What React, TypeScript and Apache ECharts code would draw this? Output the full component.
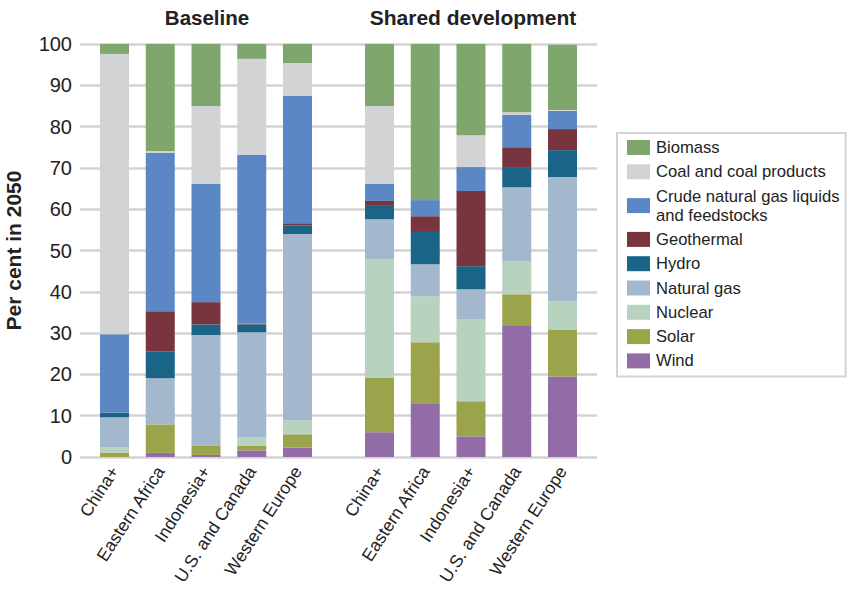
import React, { useEffect, useRef } from "react";
import * as echarts from "echarts";

const regions = ["China+", "Eastern Africa", "Indonesia+", "U.S. and Canada", "Western Europe"];
const scenarioTitles = ["Baseline", "Shared development"];
const sources = [
  "Wind",
  "Solar",
  "Nuclear",
  "Natural gas",
  "Hydro",
  "Geothermal",
  "Crude natural gas liquids and feedstocks",
  "Coal and coal products",
  "Biomass",
];
const colors = ["#926ca6", "#9ba44a", "#b8d2c0", "#a4b8cd", "#1a6488", "#78353d", "#5b87c5", "#d2d3d5", "#7fa66c"];

// Baseline (per source, regions order)
const baseWind = [0, 1.0, 0.5, 1.6, 2.3];
const baseSolar = [1.0, 6.9, 2.3, 1.2, 3.2];
const baseNuclear = [1.4, 0, 0, 2.0, 3.4];
const baseNaturalGas = [7.2, 11.2, 26.7, 25.4, 45.1];
const baseHydro = [1.1, 6.5, 2.6, 1.9, 2.1];
const baseGeothermal = [0, 9.7, 5.4, 0.2, 0.5];
const baseCrude = [19.0, 38.3, 28.6, 40.8, 30.8];
const baseCoal = [67.9, 0.5, 18.9, 23.3, 8.0];
const baseBiomass = [2.4, 25.9, 15.0, 3.6, 4.6];

// Shared development
const sharedWind = [6.0, 13.0, 5.0, 31.7, 19.5];
const sharedSolar = [13.1, 14.8, 8.5, 7.7, 11.4];
const sharedNuclear = [28.8, 11.1, 19.9, 8.0, 6.8];
const sharedNaturalGas = [9.7, 7.8, 7.2, 17.9, 30.1];
const sharedHydro = [3.4, 8.0, 5.6, 4.9, 6.5];
const sharedGeothermal = [1.0, 3.6, 18.2, 4.8, 5.1];
const sharedCrude = [4.1, 3.9, 5.8, 7.8, 4.4];
const sharedCoal = [18.9, 0, 7.7, 0.7, 0.2];
const sharedBiomass = [15.0, 37.8, 22.1, 16.5, 15.8];

const baseline = [baseWind, baseSolar, baseNuclear, baseNaturalGas, baseHydro, baseGeothermal, baseCrude, baseCoal, baseBiomass];
const shared = [sharedWind, sharedSolar, sharedNuclear, sharedNaturalGas, sharedHydro, sharedGeothermal, sharedCrude, sharedCoal, sharedBiomass];

const FONT = "'Liberation Sans', Arial, Helvetica, sans-serif";

export default function App() {
  const ref = useRef<HTMLDivElement>(null);
  useEffect(() => {
    if (!ref.current) return;
    const chart = echarts.init(ref.current, null, { renderer: "svg" });
    const gridTop = 44;
    const gridBottom = 592 - 457;
    const bandW = 45.75;
    const series: any[] = [];
    sources.forEach((s, i) => {
      series.push({
        name: s,
        type: "bar",
        stack: "base",
        xAxisIndex: 1,
        yAxisIndex: 1,
        barWidth: 29,
        itemStyle: { color: colors[i] },
        data: baseline[i],
      });
      series.push({
        name: s,
        type: "bar",
        stack: "shared",
        xAxisIndex: 2,
        yAxisIndex: 2,
        barWidth: 29,
        itemStyle: { color: colors[i] },
        data: shared[i],
      });
    });
    const xLabel = {
      rotate: 57,
      fontSize: 17.5,
      color: "#222",
      fontFamily: FONT,
      margin: 11,
      interval: 0,
    };
    const gridCommon = { top: gridTop, bottom: gridBottom, containLabel: false, outerBoundsMode: "none" };
    chart.setOption({
      animation: false,
      textStyle: { fontFamily: FONT },
      grid: [
        { ...gridCommon, left: 80, right: 861 - 597 },
        { ...gridCommon, left: 114.5 - bandW / 2, width: bandW * 5 },
        { ...gridCommon, left: 379.5 - bandW / 2, width: bandW * 5 },
      ],
      xAxis: [
        { type: "value", gridIndex: 0, show: false, min: 0, max: 1 },
        {
          type: "category",
          gridIndex: 1,
          data: regions,
          axisLine: { show: false },
          axisTick: { show: false },
          axisLabel: xLabel,
        },
        {
          type: "category",
          gridIndex: 2,
          data: regions,
          axisLine: { show: false },
          axisTick: { show: false },
          axisLabel: xLabel,
        },
      ],
      yAxis: [
        {
          type: "value",
          gridIndex: 0,
          min: 0,
          max: 100,
          interval: 10,
          name: "Per cent in 2050",
          nameLocation: "middle",
          nameGap: 56,
          nameTextStyle: { fontSize: 21, fontWeight: "bold", color: "#222", fontFamily: FONT },
          axisLine: { show: false },
          axisTick: { show: false },
          axisLabel: { fontSize: 20, color: "#222", margin: 8, fontFamily: FONT },
          splitLine: { lineStyle: { color: "#d3d3d3", width: 2.5 } },
        },
        { type: "value", gridIndex: 1, min: 0, max: 100, show: false, splitLine: { show: false } },
        { type: "value", gridIndex: 2, min: 0, max: 100, show: false, splitLine: { show: false } },
      ],
      legend: {
        orient: "vertical",
        left: 617,
        top: 133,
        data: sources.slice().reverse(),
        selectedMode: false,
        itemWidth: 23,
        itemHeight: 15,
        itemGap: 5.3,
        icon: "rect",
        padding: [5, 6, 6, 10],
        borderColor: "#d3d3d3",
        borderWidth: 2,
        borderRadius: 0,
        formatter: (n: string) =>
          n === "Crude natural gas liquids and feedstocks" ? "Crude natural gas liquids\nand feedstocks" : n,
        textStyle: { fontSize: 16.6, color: "#222", lineHeight: 19, fontFamily: FONT, padding: [0, 0, 0, 1] },
      },
      graphic: [
        {
          type: "text",
          x: 207,
          y: 17,
          style: {
            text: scenarioTitles[0],
            fontSize: 20.5,
            fontWeight: "bold",
            fill: "#222",
            fontFamily: FONT,
            textAlign: "center",
            textVerticalAlign: "middle",
          },
        },
        {
          type: "text",
          x: 473,
          y: 17,
          style: {
            text: scenarioTitles[1],
            fontSize: 21,
            fontWeight: "bold",
            fill: "#222",
            fontFamily: FONT,
            textAlign: "center",
            textVerticalAlign: "middle",
          },
        },
      ],
      series,
    });
    return () => chart.dispose();
  }, []);
  return <div ref={ref} style={{ width: 861, height: 592, position: "absolute", left: 0, top: 0 }} />;
}
